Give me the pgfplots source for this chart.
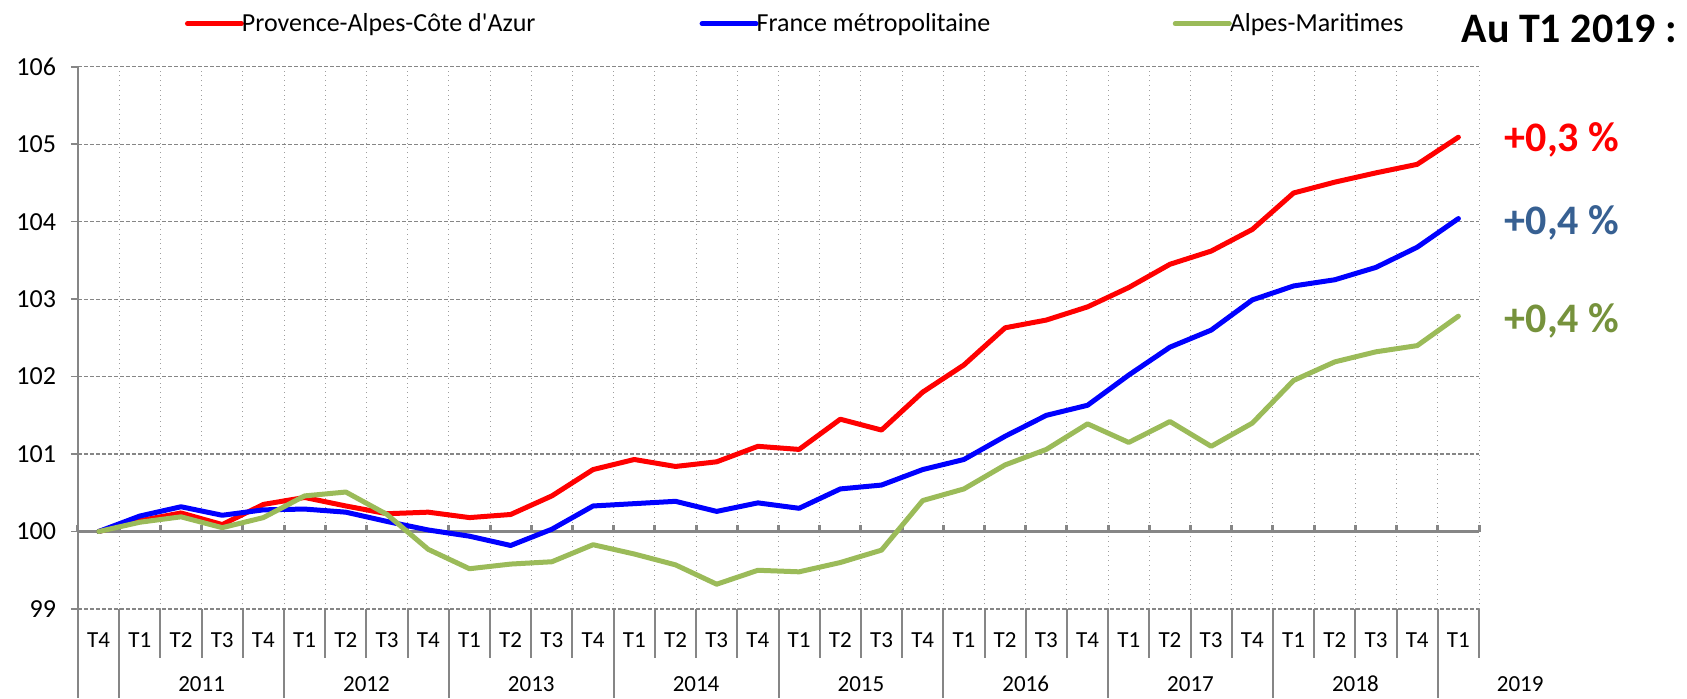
\documentclass[border=0pt]{standalone}
\usepackage{pgfplots}
\usepackage{pgfplotstable}
\pgfplotsset{compat=1.18}
\usepackage{fontspec}
\setmainfont{Carlito}
\definecolor{cRed}{RGB}{255,0,0}
\definecolor{cBlue}{RGB}{0,0,255}
\definecolor{cGreen}{RGB}{155,187,89}
\definecolor{tBlue}{RGB}{55,96,146}
\definecolor{tGreen}{RGB}{118,146,60}
\definecolor{gridgray}{RGB}{134,134,134}
\definecolor{axgray}{RGB}{134,134,134}

\pgfplotstableread{
x paca fr am
0 100.00 100.00 100.00
1 100.14 100.20 100.12
2 100.24 100.32 100.19
3 100.09 100.21 100.05
4 100.35 100.28 100.18
5 100.44 100.29 100.46
6 100.33 100.25 100.51
7 100.23 100.13 100.22
8 100.25 100.02 99.77
9 100.18 99.94 99.52
10 100.22 99.82 99.58
11 100.46 100.03 99.61
12 100.80 100.33 99.83
13 100.93 100.36 99.71
14 100.84 100.39 99.57
15 100.90 100.26 99.32
16 101.10 100.37 99.50
17 101.06 100.30 99.48
18 101.45 100.55 99.60
19 101.31 100.60 99.76
20 101.80 100.80 100.40
21 102.15 100.93 100.55
22 102.63 101.23 100.86
23 102.73 101.50 101.06
24 102.90 101.63 101.39
25 103.15 102.02 101.15
26 103.45 102.38 101.42
27 103.62 102.60 101.10
28 103.90 102.99 101.40
29 104.37 103.17 101.95
30 104.51 103.25 102.19
31 104.63 103.41 102.32
32 104.74 103.67 102.40
33 105.09 104.04 102.78
}\datatable

\begin{document}
\begin{tikzpicture}[x=0.5pt,y=0.5pt]
\path[use as bounding box] (-78,-89) rectangle (1609,609);
\begin{axis}[
  anchor=south west,
  scale only axis, width=700.5pt, height=271.15pt,
  xmin=-0.5, xmax=33.5, ymin=99, ymax=106,
  clip=false,
  axis y line*=left, axis x line*=bottom,
  x axis line style={draw=none},
  y axis line style={axgray, line width=1pt},
  ytick={99,100,...,106},
  ytick align=outside,
  major tick length=3.5pt,
  major y tick style={axgray, line width=0.8pt},
  ymajorgrids,
  major grid style={gridgray, dash pattern=on 2pt off 1pt, line width=0.6pt},
  xtick={0,...,33},
  xticklabels={T4,T1,T2,T3,T4,T1,T2,T3,T4,T1,T2,T3,T4,T1,T2,T3,T4,T1,T2,T3,T4,T1,T2,T3,T4,T1,T2,T3,T4,T1,T2,T3,T4,T1},
  major x tick style={draw=none},
  minor xtick={-0.5,0.5,...,33.5},
  xminorgrids,
  minor grid style={gridgray!80, dotted, line width=0.5pt},
  minor x tick style={draw=none},
  /pgf/number format/assume math mode=true,
  yticklabel style={font=\fontsize{13}{15}\selectfont, xshift=-4pt},
  xticklabel style={font=\fontsize{11.5}{13}\selectfont, anchor=center, yshift=-15.5pt},
  legend columns=3,
  legend cell align=left,
  legend style={at={(0.07637,1.0793)}, anchor=west, draw=none, fill=none,
    inner sep=0pt, outer sep=0pt, column sep=0pt,
    font=\fontsize{13}{15}\selectfont, nodes={inner sep=0pt}},
  legend image code/.code={\draw[#1, line width=2.5pt, line cap=round] (0pt,0pt) -- (27pt,0pt);},
]
% reference line at 100 and its ticks
\draw[axgray, line width=1.5pt] (axis cs:-0.5,100) -- (axis cs:33.5,100);
\pgfplotsinvokeforeach{-0.5,0.5,1.5,2.5,3.5,4.5,5.5,6.5,7.5,8.5,9.5,10.5,11.5,12.5,13.5,14.5,15.5,16.5,17.5,18.5,19.5,20.5,21.5,22.5,23.5,24.5,25.5,26.5,27.5,28.5,29.5,30.5,31.5,32.5,33.5}{
  \draw[axgray, line width=1.5pt] (axis cs:#1,100) -- (axis cs:#1,100.09);
  \draw[axgray, line width=1pt] (axis cs:#1,99) -- (axis cs:#1,98.37);
}
\pgfplotsinvokeforeach{-0.5,0.5,4.5,8.5,12.5,16.5,20.5,24.5,28.5,32.5}{
  \draw[axgray, line width=1pt] (axis cs:#1,98.37) -- (axis cs:#1,97.85);
}
\pgfplotsinvokeforeach{2011,2012,2013,2014,2015,2016,2017,2018,2019}{
  \node[font=\fontsize{11.5}{13}\selectfont] at (axis cs:{(#1-2011)*4+2.5},98.03) {#1};
}
\addplot[cRed, line width=2.5pt, line cap=round, line join=round] table[x=x,y=paca] {\datatable};
\addlegendentry{\makebox[227.8pt][l]{\hspace{-1pt}Provence-Alpes-Côte d\textquotesingle Azur}}
\addplot[cBlue, line width=2.5pt, line cap=round, line join=round] table[x=x,y=fr] {\datatable};
\addlegendentry{\makebox[207.1pt][l]{\hspace{-1pt}France métropolitaine}}
\addplot[cGreen, line width=2.5pt, line cap=round, line join=round] table[x=x,y=am] {\datatable};
\addlegendentry{\hspace{-1pt}Alpes-Maritimes}
\end{axis}
\node[anchor=east, font=\bfseries\fontsize{21}{25}\selectfont] at (1606,580) {Au T1 2019 :};
\node[font=\bfseries\fontsize{21}{25}\selectfont, text=cRed] at (1484,469) {+0,3 \%};
\node[font=\bfseries\fontsize{21}{25}\selectfont, text=tBlue] at (1484,386) {+0,4 \%};
\node[font=\bfseries\fontsize{21}{25}\selectfont, text=tGreen] at (1484,288) {+0,4 \%};
\end{tikzpicture}
\end{document}
